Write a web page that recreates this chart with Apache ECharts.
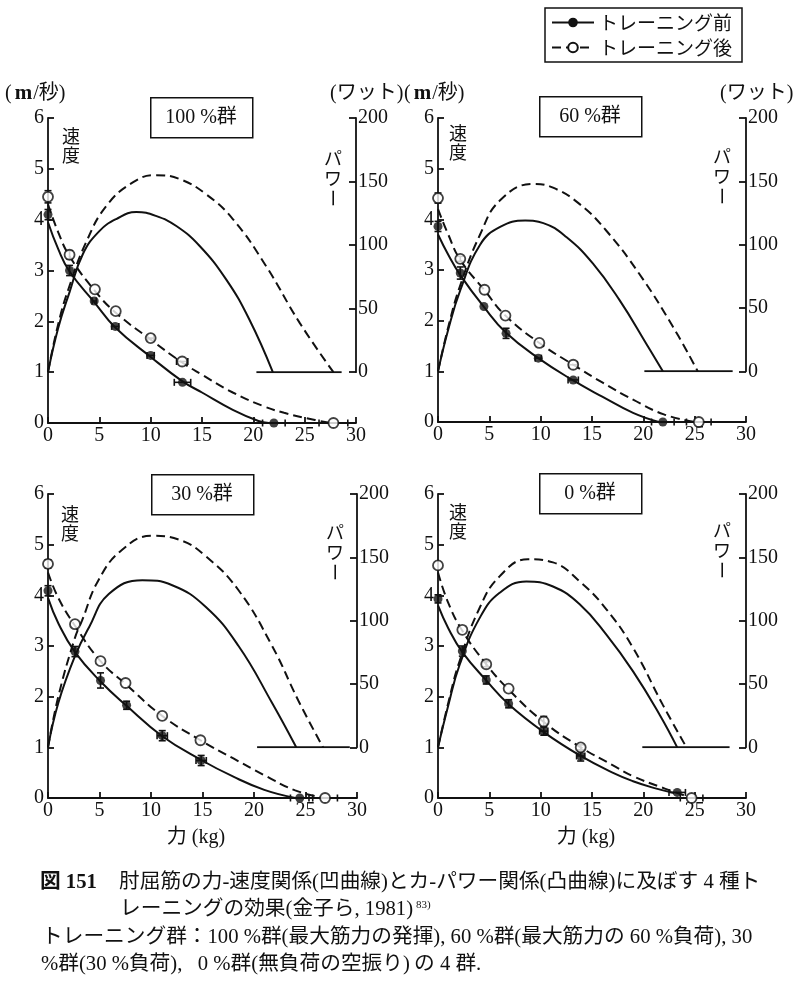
<!DOCTYPE html>
<html><head><meta charset="utf-8">
<script src="https://cdn.jsdelivr.net/npm/echarts@6/dist/echarts.min.js"></script>
<style>html,body{margin:0;padding:0;background:#fff}#c{width:800px;height:990px}</style>
</head><body><div id="c"></div>
<script>
const FONT = "'Liberation Serif','Noto Sans CJK JP',serif";
const JFONT = "'Noto Sans CJK JP','Liberation Serif',sans-serif";

// ---- labels ----
const groupNames = ['100 %群', '60 %群', '30 %群', '0 %群'];
const seriesNames = ['トレーニング前', 'トレーニング後'];
const speedUnit = ['(', 'm', '/秒)'];
const powerUnit = '(ワット)';
const forceLabel = '力 (kg)';

// ---- 100 % group ----
const pre100Points  = [[0,4.1],[2.1,3.0],[4.5,2.4],[6.55,1.9],[10,1.33],[13.1,0.8],[22,0]];
const pre100Err     = [[0,0.1],[0,0.1],[0.2,0],[0.35,0],[0.35,0],[0.8,0],[1.1,0]];
const post100Points = [[0,4.45],[2.1,3.31],[4.57,2.63],[6.6,2.2],[10,1.67],[13.07,1.21],[27.8,0]];
const post100Err    = [[0,0.12],[0,0.08],[0,0],[0,0],[0.3,0],[0.55,0],[1.4,0]];
const pre100Vel  = [[0,3.95],[1,3.42],[2.1,2.98],[4.5,2.38],[6.55,1.88],[10,1.3],[13.1,0.82],[15,0.6],[18,0.26],[20.5,0.04],[21.5,0]];
const post100Vel = [[0,4.3],[1,3.75],[2.1,3.28],[4.57,2.6],[6.6,2.17],[10,1.64],[13.07,1.19],[15,0.95],[18,0.6],[21,0.33],[23,0.2],[26,0.06],[27.6,0]];
const pre100Pow  = [[0,0],[1,35],[2.1,63],[3.4,93],[5,111],[6.65,120.5],[8.6,126],[10.5,123],[12.5,115],[14.75,99.5],[17.35,73],[19.6,41.6],[21.9,0]];
const post100Pow = [[0,0],[1,38],[2.1,68],[3.7,102],[5.7,131],[8.3,149.5],[10.5,155],[12.8,152],[15.4,140],[18,120.5],[21.2,84],[24.5,39],[27.8,0]];
const base100 = [[20.3,0],[28.6,0]];

// ---- 60 % group ----
const pre60Points  = [[0,3.86],[2.17,2.94],[4.47,2.28],[6.63,1.75],[9.77,1.26],[13.17,0.83],[21.9,0]];
const pre60Err     = [[0,0.1],[0,0.12],[0,0],[0,0.1],[0.3,0],[0.5,0],[1.1,0]];
const post60Points = [[0,4.42],[2.17,3.22],[4.53,2.61],[6.57,2.1],[9.87,1.56],[13.17,1.13],[25.4,0]];
const post60Err    = [[0,0.1],[0,0.05],[0,0],[0,0],[0,0],[0.4,0],[1.2,0]];
const pre60Vel  = [[0,3.7],[1,3.3],[2.17,2.9],[4.47,2.27],[6.63,1.76],[9.77,1.26],[13.17,0.82],[16,0.5],[19,0.18],[21.5,0]];
const post60Vel = [[0,4.2],[1,3.7],[2.17,3.2],[4.53,2.6],[6.57,2.1],[9.87,1.56],[13.17,1.13],[16,0.78],[19,0.44],[22,0.15],[25,0]];
const pre60Pow  = [[0,0],[1,33],[2.17,64],[4.1,100],[6.05,114],[8.5,119],[10.26,117],[12.5,106],[15.1,85],[17.7,56],[20.3,21.6],[21.9,0]];
const post60Pow = [[0,0],[1,35],[2.17,68],[4.1,108],[6.05,135],[9.3,148],[11.2,145],[13.8,132],[16.4,111],[19.6,77],[22.9,35],[25.3,0]];
const base60 = [[20.1,0],[28.7,0]];

// ---- 30 % group ----
const pre30Points  = [[0,4.09],[2.62,2.89],[5.1,2.32],[7.63,1.83],[11.09,1.23],[14.87,0.74],[24.44,0]];
const pre30Err     = [[0,0.1],[0,0.1],[0,0.15],[0,0.08],[0.5,0.1],[0.5,0.1],[0.9,0]];
const post30Points = [[0,4.62],[2.62,3.43],[5.1,2.7],[7.53,2.27],[11.09,1.62],[14.8,1.14],[26.9,0]];
const post30Err    = [[0,0.08],[0,0],[0,0],[0,0],[0,0],[0,0],[1.2,0]];
const pre30Vel  = [[0,3.95],[1,3.45],[2.62,2.88],[5.1,2.3],[7.63,1.82],[11.09,1.22],[14.87,0.75],[18,0.42],[21,0.16],[24,0]];
const post30Vel = [[0,4.45],[1,3.95],[2.62,3.4],[5.1,2.7],[7.53,2.25],[11.09,1.62],[14.8,1.14],[18,0.78],[21,0.45],[24,0.15],[26.8,0]];
const pre30Pow  = [[0,0],[1,35],[2.62,72],[4,95],[5.9,121],[9.15,132],[12.06,128],[15.3,111],[18.5,80],[21.76,35],[24.1,0]];
const post30Pow = [[0,0],[1,40],[2.6,86],[3.3,100],[4.9,132],[7.2,156],[10.1,167],[12.7,164],[15.3,151],[18.5,124],[21.76,80],[24.3,37],[26.7,0]];
const base30 = [[20.3,0],[29.3,0]];

// ---- 0 % group ----
const pre0Points  = [[0,3.93],[2.37,2.9],[4.7,2.33],[6.88,1.86],[10.3,1.32],[13.9,0.83],[23.3,0.11]];
const pre0Err     = [[0,0.08],[0,0.1],[0,0.08],[0,0.08],[0.4,0.08],[0.4,0.1],[0.8,0]];
const post0Points = [[0,4.59],[2.37,3.32],[4.7,2.64],[6.88,2.16],[10.3,1.51],[13.9,1.0],[24.7,0]];
const post0Err    = [[0,0],[0,0],[0,0.05],[0,0],[0,0.1],[0,0.05],[1.1,0]];
const pre0Vel  = [[0,3.8],[1,3.35],[2.37,2.88],[4.7,2.32],[6.88,1.85],[10.3,1.3],[13.9,0.83],[17,0.5],[19,0.33],[21,0.2],[23,0.1]];
const post0Vel = [[0,4.45],[1,3.85],[2.37,3.3],[4.7,2.64],[6.88,2.14],[10.3,1.5],[13.9,1.0],[17,0.65],[19,0.43],[21.5,0.23],[24.3,0.03]];
const pre0Pow  = [[0,0],[1,33],[2.1,65],[4.05,102],[6,122],[8.6,131],[11.2,127],[13.8,113],[16.4,89],[19,60],[21.6,25.6],[23.3,0]];
const post0Pow = [[0,0],[1,35],[2.1,68],[4.05,110],[6,135],[8.76,148.5],[11.2,146],[13.8,131],[16.4,109],[19,78.5],[21.9,33.5],[24.2,0]];
const base0 = [[19.9,0],[28.4,0]];

// ---- captions ----
const captionFig = '図 151';
const captionLines = [
  '肘屈筋の力-速度関係(凹曲線)とカ-パワー関係(凸曲線)に及ぼす 4 種ト',
  'レーニングの効果(金子ら, 1981)',
  'トレーニング群：100 %群(最大筋力の発揮), 60 %群(最大筋力の 60 %負荷), 30',
  '%群(30 %負荷),\u2002 0 %群(無負荷の空振り)\u2009の 4 群.'
];
const captionRef = '83)';

const panelsData = [
  {pre:pre100Points, preErr:pre100Err, post:post100Points, postErr:post100Err, preVel:pre100Vel, postVel:post100Vel, prePow:pre100Pow, postPow:post100Pow, base:base100},
  {pre:pre60Points, preErr:pre60Err, post:post60Points, postErr:post60Err, preVel:pre60Vel, postVel:post60Vel, prePow:pre60Pow, postPow:post60Pow, base:base60},
  {pre:pre30Points, preErr:pre30Err, post:post30Points, postErr:post30Err, preVel:pre30Vel, postVel:post30Vel, prePow:pre30Pow, postPow:post30Pow, base:base30},
  {pre:pre0Points, preErr:pre0Err, post:post0Points, postErr:post0Err, preVel:pre0Vel, postVel:post0Vel, prePow:pre0Pow, postPow:post0Pow, base:base0}
];

// layout (pixels)
const layout = [
  {left:48, top:118, width:308, height:305, box:[150,97,102,40], spd:[71,127], pw:[333,158], showForce:false},
  {left:438, top:118, width:308, height:304, box:[539,96,102,40], spd:[458,124], pw:[722,156], showForce:false},
  {left:48, top:494, width:309, height:304, box:[151,474,102,40], spd:[70,505], pw:[335,532], showForce:true},
  {left:438, top:494, width:308, height:304, box:[539,473,102,40], spd:[458,503], pw:[722,530], showForce:true}
];

const BLACK = '#111';
const DASH = [9, 5];

function errRender(params, api) {
  const x = api.value(0), y = api.value(1), xe = api.value(2), ye = api.value(3);
  const st = {stroke: BLACK, lineWidth: 1.6};
  const cap = 3.5;
  const ch = [];
  if (xe > 0) {
    const a = api.coord([x - xe, y]), b = api.coord([x + xe, y]);
    ch.push({type:'line', shape:{x1:a[0], y1:a[1], x2:b[0], y2:b[1]}, style:st});
    ch.push({type:'line', shape:{x1:a[0], y1:a[1]-cap, x2:a[0], y2:a[1]+cap}, style:st});
    ch.push({type:'line', shape:{x1:b[0], y1:b[1]-cap, x2:b[0], y2:b[1]+cap}, style:st});
  }
  if (ye > 0) {
    const a = api.coord([x, y - ye]), b = api.coord([x, y + ye]);
    ch.push({type:'line', shape:{x1:a[0], y1:a[1], x2:b[0], y2:b[1]}, style:st});
    ch.push({type:'line', shape:{x1:a[0]-cap, y1:a[1], x2:a[0]+cap, y2:a[1]}, style:st});
    ch.push({type:'line', shape:{x1:b[0]-cap, y1:b[1], x2:b[0]+cap, y2:b[1]}, style:st});
  }
  return {type:'group', children: ch};
}

const grids = [], xAxes = [], yAxes = [], series = [], graphics = [];
const axisLineStyle = {color: BLACK, width: 1.8};
const labelStyle = {color: BLACK, fontFamily: FONT, fontSize: 20};
const SMOOTH = 0.45;

layout.forEach((L, i) => {
  const D = panelsData[i];
  const gS = 2 * i, gP = 2 * i + 1;
  grids.push({left: L.left, top: L.top, width: L.width, height: L.height, containLabel: false});
  grids.push({left: L.left, top: L.top, width: L.width, height: L.height * 5 / 6, containLabel: false});
  xAxes.push({gridIndex: gS, type: 'value', min: 0, max: 30, interval: 5,
    axisLine: {show: true, onZero: false, lineStyle: axisLineStyle},
    axisTick: {show: true, inside: true, length: 6, lineStyle: axisLineStyle},
    axisLabel: Object.assign({margin: 3}, labelStyle), splitLine: {show: false}});
  xAxes.push({gridIndex: gP, type: 'value', min: 0, max: 30, show: false});
  yAxes.push({gridIndex: gS, type: 'value', min: 0, max: 6, interval: 1, position: 'left',
    axisLine: {show: true, onZero: false, lineStyle: axisLineStyle},
    axisTick: {show: true, inside: true, length: 6, lineStyle: axisLineStyle},
    axisLabel: Object.assign({margin: 4}, labelStyle), splitLine: {show: false}});
  yAxes.push({gridIndex: gP, type: 'value', min: 0, max: 200, interval: 50, position: 'right',
    axisLine: {show: true, onZero: false, lineStyle: axisLineStyle},
    axisTick: {show: true, inside: true, length: 7, lineStyle: axisLineStyle},
    axisLabel: Object.assign({margin: 2}, labelStyle), splitLine: {show: false}});

  // power curves
  series.push({type: 'line', xAxisIndex: gP, yAxisIndex: gP, data: D.prePow, smooth: SMOOTH,
    showSymbol: false, symbol: 'none', lineStyle: {color: BLACK, width: 2}, silent: true, z: 2});
  series.push({type: 'line', xAxisIndex: gP, yAxisIndex: gP, data: D.postPow, smooth: SMOOTH,
    showSymbol: false, symbol: 'none', lineStyle: {color: BLACK, width: 2, type: DASH}, silent: true, z: 2});
  series.push({type: 'line', xAxisIndex: gP, yAxisIndex: gP, data: D.base,
    showSymbol: false, symbol: 'none', lineStyle: {color: BLACK, width: 2}, silent: true, z: 2});

  // velocity curves (named -> legend)
  series.push({name: seriesNames[0], type: 'line', xAxisIndex: gS, yAxisIndex: gS, data: D.preVel, smooth: SMOOTH,
    symbol: 'circle', symbolSize: 8, showSymbol: false, itemStyle: {color: BLACK},
    lineStyle: {color: BLACK, width: 2}, silent: true, z: 3});
  series.push({name: seriesNames[1], type: 'line', xAxisIndex: gS, yAxisIndex: gS, data: D.postVel, smooth: SMOOTH,
    symbol: 'circle', symbolSize: 8, showSymbol: false, itemStyle: {color: '#fff', borderColor: BLACK, borderWidth: 1.5},
    lineStyle: {color: BLACK, width: 2, type: DASH}, silent: true, z: 3});

  // error bars
  series.push({type: 'custom', xAxisIndex: gS, yAxisIndex: gS, renderItem: errRender, encode: {x: 0, y: 1},
    data: D.pre.map((p, k) => [p[0], p[1], D.preErr[k][0], D.preErr[k][1]]), silent: true, z: 4});
  series.push({type: 'custom', xAxisIndex: gS, yAxisIndex: gS, renderItem: errRender, encode: {x: 0, y: 1},
    data: D.post.map((p, k) => [p[0], p[1], D.postErr[k][0], D.postErr[k][1]]), silent: true, z: 4});

  // points
  series.push({type: 'scatter', xAxisIndex: gS, yAxisIndex: gS, data: D.pre, symbol: 'circle', symbolSize: 9,
    itemStyle: {color: BLACK}, silent: true, z: 5});
  series.push({type: 'scatter', xAxisIndex: gS, yAxisIndex: gS, data: D.post, symbol: 'circle', symbolSize: 10,
    itemStyle: {color: '#fff', borderColor: BLACK, borderWidth: 1.8}, silent: true, z: 5});

  // group title box
  graphics.push({type: 'rect', left: L.box[0], top: L.box[1], shape: {width: L.box[2], height: L.box[3]},
    style: {fill: '#fff', stroke: BLACK, lineWidth: 1.5}, z: 10});
  graphics.push({type: 'text', x: L.box[0] + L.box[2] / 2, y: L.box[1] + L.box[3] / 2 + 1, z: 11,
    style: {text: groupNames[i], font: '20px ' + FONT, fill: BLACK, align: 'center', verticalAlign: 'middle'}});
  // 速度 vertical
  graphics.push({type: 'text', x: L.spd[0], y: L.spd[1], z: 11,
    style: {text: '速\n度', font: '18px ' + JFONT, lineHeight: 19, fill: BLACK, align: 'center', verticalAlign: 'top'}});
  // パワー vertical
  graphics.push({type: 'text', x: L.pw[0], y: L.pw[1] - 10, z: 11,
    style: {text: 'パ\nワ', font: '18px ' + JFONT, lineHeight: 20, fill: BLACK, align: 'center', verticalAlign: 'top'}});
  graphics.push({type: 'text', x: L.pw[0], y: L.pw[1] + 40, rotation: -Math.PI / 2, z: 11,
    style: {text: 'ー', font: '18px ' + JFONT, fill: BLACK, align: 'center', verticalAlign: 'middle'}});
  if (L.showForce) {
    graphics.push({type: 'text', x: L.left + 148, y: 838, z: 11,
      style: {text: forceLabel, font: '20px ' + FONT, fill: BLACK, align: 'center', verticalAlign: 'middle'}});
  }
});

// unit labels
[[5, 94], [404, 94]].forEach(u => {
  graphics.push({type: 'text', x: u[0], y: u[1], z: 11,
    style: {text: '{a|' + speedUnit[0] + '}{b|' + speedUnit[1] + '}{a|' + speedUnit[2] + '}', align: 'left', verticalAlign: 'middle',
      rich: {a: {font: '20px ' + FONT, fill: BLACK}, b: {font: 'bold 21px ' + FONT, fill: BLACK, padding: [0, 1, 0, 3]}}}});
});
[[330, 94], [720, 94]].forEach(u => {
  graphics.push({type: 'text', x: u[0], y: u[1], z: 11,
    style: {text: powerUnit, font: '20px ' + FONT, fill: BLACK, align: 'left', verticalAlign: 'middle'}});
});

// caption
const CF = '20.7px ' + FONT;
graphics.push({type: 'text', x: 40, y: 883, z: 11,
  style: {text: captionFig, font: 'bold 20.7px ' + FONT, fill: BLACK, align: 'left', verticalAlign: 'middle'}});
graphics.push({type: 'text', x: 119, y: 883, z: 11,
  style: {text: captionLines[0], font: CF, fill: BLACK, align: 'left', verticalAlign: 'middle'}});
graphics.push({type: 'text', x: 120, y: 910, z: 11,
  style: {text: '{n|' + captionLines[1] + '}{s|' + captionRef + '}', align: 'left', verticalAlign: 'middle',
    rich: {n: {font: CF, fill: BLACK}, s: {font: '11px ' + FONT, fill: BLACK, verticalAlign: 'top', padding: [0,0,10,3]}}}});
graphics.push({type: 'text', x: 42, y: 938, z: 11,
  style: {text: captionLines[2], font: CF, fill: BLACK, align: 'left', verticalAlign: 'middle'}});
graphics.push({type: 'text', x: 41, y: 965, z: 11,
  style: {text: captionLines[3], font: CF, fill: BLACK, align: 'left', verticalAlign: 'middle'}});

const chart = echarts.init(document.getElementById('c'), null, {renderer: 'canvas'});
chart.setOption({
  backgroundColor: '#fff',
  animation: false,
  legend: {
    data: seriesNames, orient: 'vertical', left: 545, top: 8,
    itemWidth: 42, itemHeight: 12, itemGap: 6,
    borderColor: BLACK, borderWidth: 1.5, padding: [5, 10, 5, 6],
    textStyle: {fontFamily: JFONT, fontSize: 19, color: BLACK}
  },
  grid: grids, xAxis: xAxes, yAxis: yAxes, series: series, graphic: graphics
});
</script></body></html>
